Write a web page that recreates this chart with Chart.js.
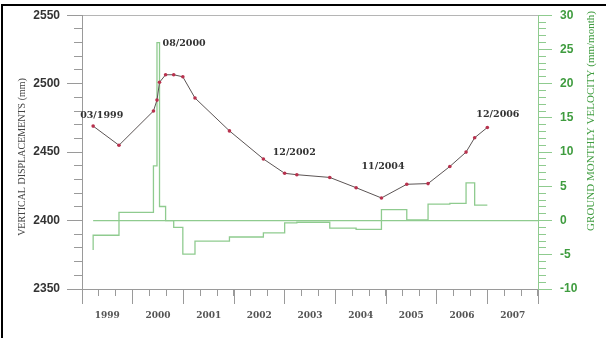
<!DOCTYPE html>
<html>
<head>
<meta charset="utf-8">
<title>Vertical displacements and monthly velocity</title>
<script src="https://cdn.jsdelivr.net/npm/chart.js@4.4.1/dist/chart.umd.min.js"></script>
<style>
  html, body { margin: 0; padding: 0; background: #fff; }
  #wrap { position: relative; width: 606px; height: 338px; }
  #frame { position: absolute; left: 1px; top: 4px; right: 0; bottom: 0;
           border-top: 2px solid #000; border-left: 2px solid #000; pointer-events: none; }
</style>
</head>
<body>
<div id="wrap">
  <canvas id="chart" width="606" height="338"></canvas>
  <div id="frame"></div>
</div>
<script>
// ---------- DATA ----------
// survey dates as decimal years
const surveyTimes = [1999.22, 1999.73, 2000.41, 2000.48, 2000.53, 2000.65, 2000.81, 2000.99,
  2001.23, 2001.91, 2002.58, 2003.00, 2003.24, 2003.89, 2004.41, 2004.91,
  2005.41, 2005.83, 2006.26, 2006.58, 2006.75, 2007.00];
// vertical displacement (mm)
const displacements = [2469, 2455, 2480, 2488, 2501, 2506.5, 2506.5, 2505,
  2489.5, 2465.5, 2445, 2434.5, 2433.5, 2431.5, 2424, 2416.5,
  2426.5, 2427, 2439.5, 2450, 2460.5, 2468];
// monthly velocity (mm/month), held between consecutive surveys
const velocityStart = -4.3;
const velocities = [-2.15, 1.2, 8.0, 26.0, 2.05, 0.0, -1.0, -4.9,
  -3.0, -2.4, -1.8, -0.35, -0.25, -1.1, -1.3, 1.6,
  0.1, 2.4, 2.5, 5.5, 2.25];
// x axis years (labels sit in the middle of each year)
const years = [1999, 2000, 2001, 2002, 2003, 2004, 2005, 2006, 2007];
// date annotations: [text, survey index]
const dateNotes = [['03/1999', 0], ['12/2002', 11], ['11/2004', 15], ['12/2006', 21]];
const peakNote = '08/2000';

// ---------- build series ----------
const xMin = years[0];
const xMax = years[years.length - 1] + 1;

const dispSeries = surveyTimes.map((t, i) => ({ x: t, y: displacements[i] }));
const velSeries = [{ x: surveyTimes[0], y: velocityStart }].concat(
  surveyTimes.map((t, i) => ({ x: t, y: velocities[Math.min(i, velocities.length - 1)] }))
);
const zeroSeries = [{ x: surveyTimes[0], y: 0 }, { x: xMax, y: 0 }];

// ---------- styling ----------
const GRAY = '#9a9a9a';
const GREEN_LINE = '#8fcb8f';
const GREEN_TEXT = '#3f9c3f';
const sansBold = { family: 'Liberation Sans, Arial, sans-serif', weight: 'bold', size: 12 };
const serifBold = { family: 'DejaVu Serif, serif', weight: 'bold', size: 9 };

// helper for tick-only axes (no labels, no space taken)
function tickAxis(position, min, max, values, len, color) {
  return {
    type: 'linear', position, min, max, weight: 0,
    afterBuildTicks: s => { s.ticks = values.map(v => ({ value: v })); },
    ticks: { display: false },
    grid: { drawOnChartArea: false, tickLength: len, color, tickColor: color },
    border: { display: false },
    afterFit: s => { if (s.isHorizontal()) s.height = 0; else s.width = 0; }
  };
}

const range = (a, b, step) => {
  const out = [];
  for (let v = a; v <= b + 1e-9; v += step) out.push(v);
  return out;
};

// ---------- plugins ----------
const titlesPlugin = {
  id: 'axisTitles',
  afterDraw(chart) {
    const { ctx } = chart;
    const vText = (text, x, y, color, size) => {
      ctx.save();
      ctx.translate(x, y);
      ctx.rotate(-Math.PI / 2);
      ctx.font = size + 'px "Liberation Serif", serif';
      ctx.fillStyle = color;
      ctx.textAlign = 'center';
      ctx.textBaseline = 'middle';
      ctx.fillText(text, 0, 0);
      ctx.restore();
    };
    vText('VERTICAL DISPLACEMENTS (mm)', 22, 157, '#444', 10);
    vText('GROUND MONTHLY VELOCITY (mm/month)', 591, 121, GREEN_TEXT, 11);
  }
};

const notesPlugin = {
  id: 'dateNotes',
  afterDatasetsDraw(chart) {
    const { ctx } = chart;
    const pts = chart.getDatasetMeta(0).data;
    const offsets = [[-13, -11], [-12, -21], [-20, -31], [-11, -13]];
    ctx.save();
    ctx.font = 'bold 9.5px "DejaVu Serif", serif';
    ctx.fillStyle = '#333';
    ctx.textAlign = 'left';
    ctx.textBaseline = 'middle';
    dateNotes.forEach(([text, idx], k) => {
      const p = pts[idx];
      ctx.fillText(text, p.x + offsets[k][0], p.y + offsets[k][1]);
    });
    // label beside the top of the velocity peak
    const velPts = chart.getDatasetMeta(1).data;
    const peak = velocities.indexOf(Math.max(...velocities)) + 1;
    ctx.fillText(peakNote, velPts[peak + 1].x + 3, velPts[peak].y + 1);
    ctx.restore();
  }
};

// ---------- chart ----------
new Chart(document.getElementById('chart'), {
  type: 'line',
  data: {
    datasets: [
      {
        label: 'Vertical displacement',
        data: dispSeries,
        xAxisID: 'x', yAxisID: 'y',
        borderColor: '#5b5454', borderWidth: 1,
        pointRadius: 1.8, pointBackgroundColor: '#b8324e', pointBorderColor: '#b8324e',
        pointBorderWidth: 0, tension: 0, order: 0
      },
      {
        label: 'Monthly velocity',
        data: velSeries,
        xAxisID: 'x', yAxisID: 'y2',
        stepped: 'before',
        borderColor: GREEN_LINE, borderWidth: 1.3,
        pointRadius: 0, order: 1
      },
      {
        label: 'zero',
        data: zeroSeries,
        xAxisID: 'x', yAxisID: 'y2',
        borderColor: GREEN_LINE, borderWidth: 1.2,
        pointRadius: 0, order: 2
      }
    ]
  },
  options: {
    responsive: false,
    animation: false,
    devicePixelRatio: 1,
    layout: { padding: { top: 10, left: 0, right: 0, bottom: 0 } },
    plugins: { legend: { display: false }, tooltip: { enabled: false } },
    scales: {
      x: {
        type: 'linear', position: 'bottom', min: xMin, max: xMax, weight: 1,
        afterBuildTicks: s => { s.ticks = years.map(y => ({ value: y + 0.5 })); },
        ticks: {
          callback: v => String(Math.floor(v)),
          color: '#555', font: serifBold, padding: 21, maxRotation: 0, autoSkip: false
        },
        grid: { drawOnChartArea: false, drawTicks: false },
        border: { color: GRAY, width: 1 },
        afterFit: s => { s.height = 49; }
      },
      xMajor: tickAxis('bottom', xMin, xMax, range(xMin, xMax, 1), 15, GRAY),
      xMinor: tickAxis('bottom', xMin, xMax, range(xMin, xMax, 1 / 3), 7, GRAY),
      xTop: {
        type: 'linear', position: 'top', min: xMin, max: xMax,
        ticks: { display: false },
        grid: { display: false },
        border: { color: '#b5b5b5', width: 1 },
        afterFit: s => { s.height = 0; }
      },
      y: {
        type: 'linear', position: 'left', min: 2350, max: 2550, weight: 1,
        ticks: { stepSize: 50, padding: 7, color: '#333', font: sansBold, callback: v => String(v) },
        grid: { drawOnChartArea: false, tickLength: 15, color: GRAY },
        border: { color: GRAY, width: 1 },
        afterFit: s => { s.width = 82; }
      },
      yMinor: tickAxis('left', 2350, 2550, range(2350, 2550, 10), 8, GRAY),
      y2: {
        type: 'linear', position: 'right', min: -10, max: 30, weight: 1,
        ticks: { stepSize: 5, padding: 8, color: GREEN_TEXT, font: sansBold, callback: v => String(v) },
        grid: { drawOnChartArea: false, tickLength: 14, color: GREEN_LINE },
        border: { color: GREEN_LINE, width: 1 },
        afterFit: s => { s.width = 68; }
      },
      y2Minor: tickAxis('right', -10, 30, range(-10, 30, 1), 8, GREEN_LINE)
    }
  },
  plugins: [titlesPlugin, notesPlugin]
});
</script>
</body>
</html>
